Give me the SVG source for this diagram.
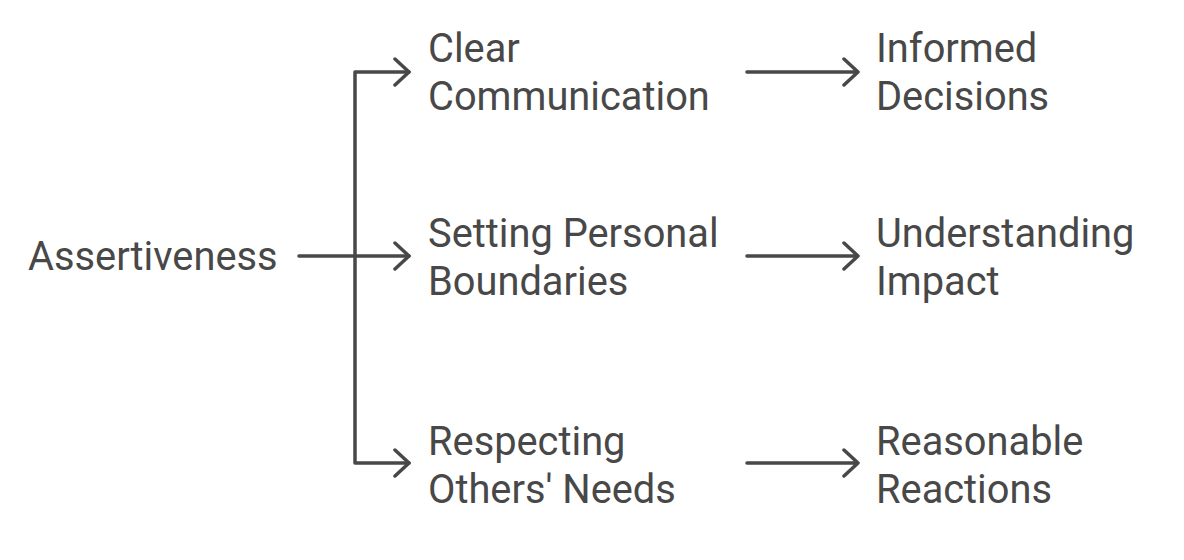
<svg xmlns="http://www.w3.org/2000/svg" width="1184" height="560" viewBox="0 0 1184 560">
<style>
text{font-family:Roboto,"Liberation Sans",sans-serif;font-size:39.8px;fill:#484848}
.c{fill:none;stroke:#484848;stroke-width:3.5;stroke-linecap:round;stroke-linejoin:round}
</style>
<rect width="1184" height="560" fill="#ffffff"/>
<g id="connectors">
<path class="c" d="M299 256H409M355 256V72H409M355 256V463H409"/>
<path class="c" d="M395 59L409 72L395 85M395 243L409 256L395 269M395 450L409 463L395 476"/>
<path class="c" d="M747 72H858M844 59L858 72L844 85"/>
<path class="c" d="M747 256H858M844 243L858 256L844 269"/>
<path class="c" d="M747 463H858M844 450L858 463L844 476"/>
</g>
<g id="assertiveness"><text x="28" y="270">Assertiveness</text></g>
<g id="clear-communication"><text x="428" y="62">Clear</text><text x="428" y="110">Communication</text></g>
<g id="setting-boundaries"><text x="428" y="247">Setting Personal</text><text x="428" y="295">Boundaries</text></g>
<g id="respecting-needs"><text x="428" y="455">Respecting</text><text x="428" y="503">Others' Needs</text></g>
<g id="informed-decisions"><text x="876" y="62">Informed</text><text x="876" y="110">Decisions</text></g>
<g id="understanding-impact"><text x="876" y="247">Understanding</text><text x="876" y="295">Impact</text></g>
<g id="reasonable-reactions"><text x="876" y="455">Reasonable</text><text x="876" y="503">Reactions</text></g>
</svg>
